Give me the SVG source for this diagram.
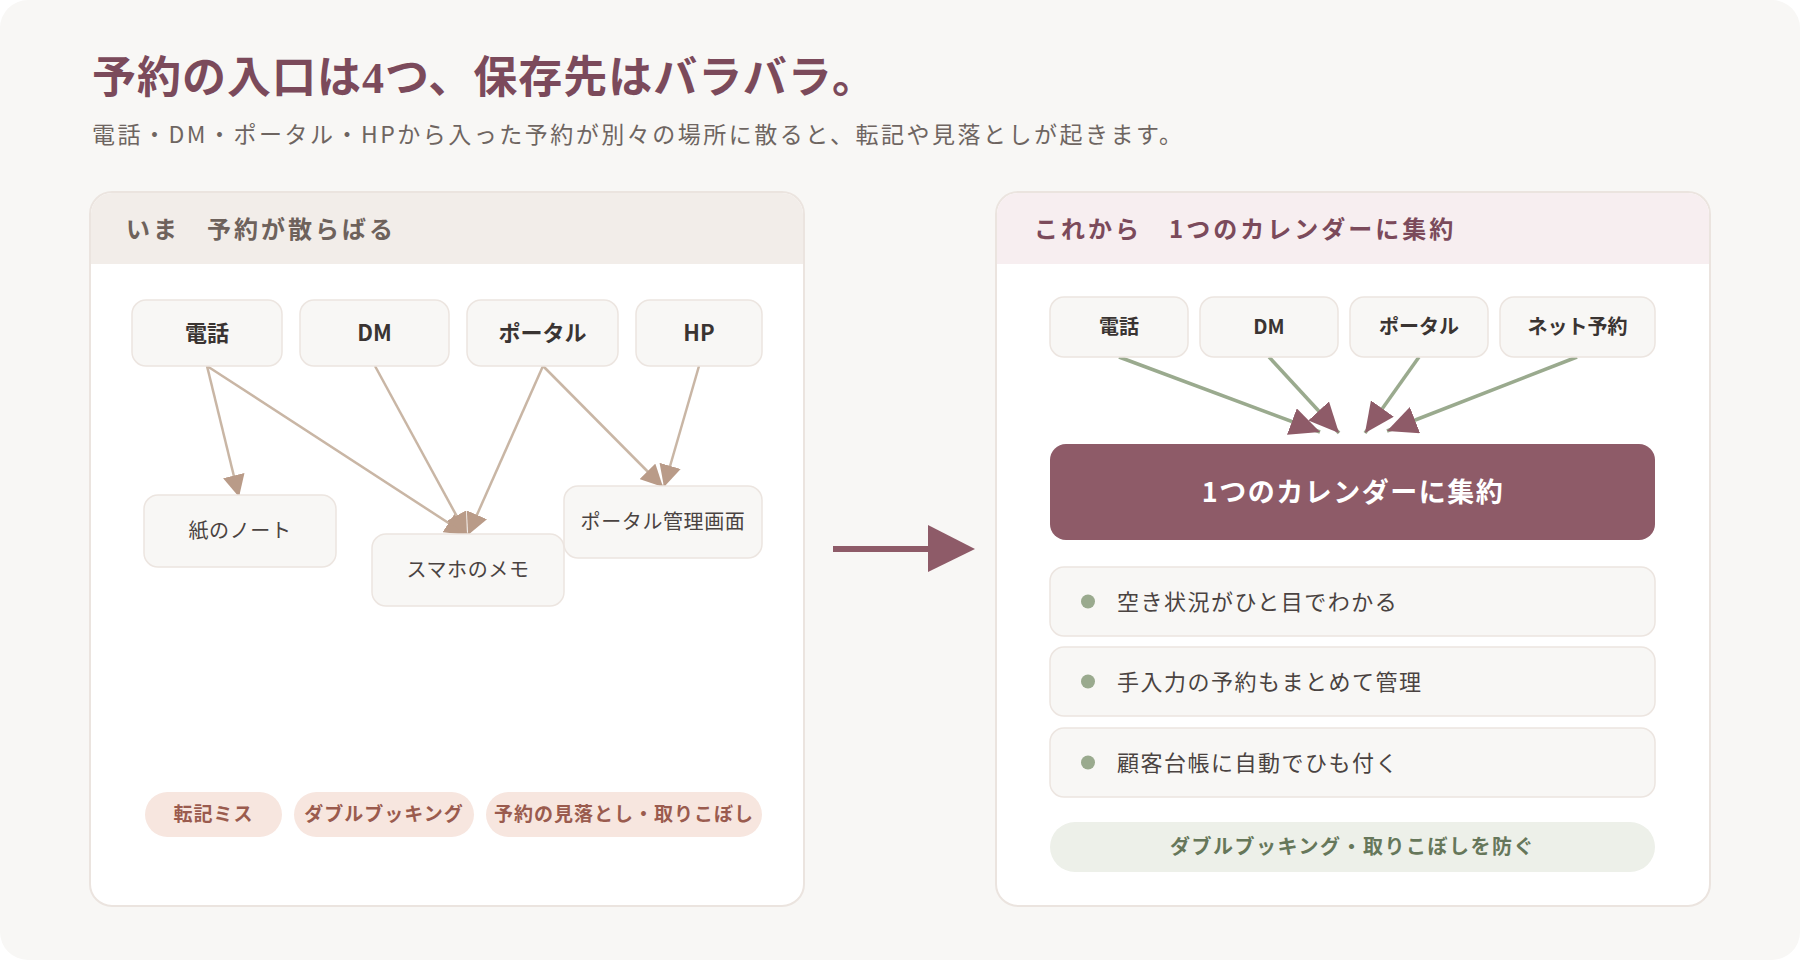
<svg xmlns="http://www.w3.org/2000/svg" width="1800" height="960" viewBox="0 0 1800 960">
<defs>
<style>
.cjk{font-family:"Noto Sans CJK JP","Noto Sans",sans-serif;}
.title{font-family:"Liberation Serif","Noto Sans CJK JP",serif;font-size:44px;font-weight:700;fill:#7b4a5b;letter-spacing:1px;}
.sub{font-size:23px;fill:#6e6561;letter-spacing:2.5px;}
.panel{fill:#ffffff;stroke:#ebe4df;stroke-width:2;}
.hdtxt{font-size:24px;font-weight:700;letter-spacing:3px;}
.node{fill:#f8f7f5;stroke:#ece5e0;stroke-width:1.5;}
.lbl{font-size:22px;font-weight:700;fill:#3a3432;text-anchor:middle;}
.lblr{font-size:20px;font-weight:700;fill:#3a3432;text-anchor:middle;}
.sto{font-size:20px;fill:#4a4341;text-anchor:middle;letter-spacing:0.6px;}
.pillL{fill:#f7e6df;}
.pillLt{font-size:19px;font-weight:700;fill:#9a5b4e;text-anchor:middle;letter-spacing:1px;}
.eL{stroke:#c9b6a5;stroke-width:2.5;fill:none;}
.eR{stroke:#9aaa8e;stroke-width:3.5;fill:none;}
.item{fill:#f8f7f5;stroke:#ece5e0;stroke-width:1.5;}
.itxt{font-size:22px;fill:#4a4341;letter-spacing:1.5px;}
.dot{fill:#9aaa8e;}
</style>
<marker id="aL" markerUnits="userSpaceOnUse" markerWidth="22" markerHeight="22" refX="22" refY="11" orient="auto">
<path d="M0,0 L22,11 L0,22 z" fill="#b99b88"/>
</marker>
<marker id="aR" markerUnits="userSpaceOnUse" markerWidth="30" markerHeight="28" refX="30" refY="14" orient="auto">
<path d="M0,0 L30,14 L0,28 z" fill="#8e5b68"/>
</marker>
</defs>

<rect x="0" y="0" width="1800" height="960" fill="#ffffff"/>
<rect x="0" y="0" width="1800" height="960" rx="28" fill="#f8f7f5"/>

<text class="title" x="92" y="93">予約の入口は4つ、保存先はバラバラ。</text>
<text class="cjk sub" x="92" y="143">電話・DM・ポータル・HPから入った予約が別々の場所に散ると、転記や見落としが起きます。</text>

<g id="panel-now">
<rect class="panel" x="90" y="192" width="714" height="714" rx="22"/>
<path d="M91,264 L91,214 A21,21 0 0 1 112,193 L782,193 A21,21 0 0 1 803,214 L803,264 Z" fill="#f2ede9"/>
<text class="cjk hdtxt" x="126" y="238" fill="#6e625c">いま　予約が散らばる</text>
</g>

<g id="panel-future">
<rect class="panel" x="996" y="192" width="714" height="714" rx="22"/>
<path d="M997,264 L997,214 A21,21 0 0 1 1018,193 L1688,193 A21,21 0 0 1 1709,214 L1709,264 Z" fill="#f7eef0"/>
<text class="cjk hdtxt" x="1034" y="238" fill="#7b4a5b">これから　1つのカレンダーに集約</text>
</g>

<g id="connectors">
<line class="eL" x1="207" y1="366" x2="239" y2="497" marker-end="url(#aL)"/>
<line class="eL" x1="207" y1="366" x2="467" y2="535" marker-end="url(#aL)"/>
<line class="eL" x1="375" y1="366" x2="467" y2="535" marker-end="url(#aL)"/>
<line class="eL" x1="543" y1="366" x2="468" y2="535" marker-end="url(#aL)"/>
<line class="eL" x1="543" y1="366" x2="663" y2="487" marker-end="url(#aL)"/>
<line class="eL" x1="699" y1="366" x2="664" y2="487" marker-end="url(#aL)"/>
<line class="eR" x1="1119" y1="357" x2="1320" y2="432" marker-end="url(#aR)"/>
<line class="eR" x1="1269" y1="357" x2="1339" y2="433" marker-end="url(#aR)"/>
<line class="eR" x1="1419" y1="357" x2="1365" y2="433" marker-end="url(#aR)"/>
<line class="eR" x1="1577" y1="357" x2="1387" y2="431" marker-end="url(#aR)"/>
<g id="big-arrow">
<line x1="833" y1="549" x2="932" y2="549" stroke="#8e5b68" stroke-width="6"/>
<path d="M928,525 L975,549 L928,572 Z" fill="#8e5b68"/>
</g>
</g>

<g id="n-tel"><rect class="node" x="132" y="300" width="150" height="66" rx="14"/><text class="cjk lbl" x="207" y="341">電話</text></g>
<g id="n-dm"><rect class="node" x="300" y="300" width="149" height="66" rx="14"/><text class="cjk lbl" x="374.5" y="341">DM</text></g>
<g id="n-portal"><rect class="node" x="467" y="300" width="151" height="66" rx="14"/><text class="cjk lbl" x="542.5" y="341">ポータル</text></g>
<g id="n-hp"><rect class="node" x="636" y="300" width="126" height="66" rx="14"/><text class="cjk lbl" x="699" y="341">HP</text></g>

<g id="s-note"><rect class="node" x="144" y="495" width="192" height="72" rx="14"/><text class="cjk sto" x="240" y="538">紙のノート</text></g>
<g id="s-memo"><rect class="node" x="372" y="534" width="192" height="72" rx="14"/><text class="cjk sto" x="468" y="577">スマホのメモ</text></g>
<g id="s-admin"><rect class="node" x="564" y="486" width="198" height="72" rx="14"/><text class="cjk sto" x="663" y="529">ポータル管理画面</text></g>

<g id="issues">
<rect class="pillL" x="145" y="792" width="137" height="45" rx="22.5"/><text class="cjk pillLt" x="213.5" y="821">転記ミス</text>
<rect class="pillL" x="294" y="792" width="180" height="45" rx="22.5"/><text class="cjk pillLt" x="384" y="821">ダブルブッキング</text>
<rect class="pillL" x="486" y="792" width="276" height="45" rx="22.5"/><text class="cjk pillLt" x="624" y="821">予約の見落とし・取りこぼし</text>
</g>

<g id="r-tel"><rect class="node" x="1050" y="297" width="138" height="60" rx="14"/><text class="cjk lblr" x="1119" y="334">電話</text></g>
<g id="r-dm"><rect class="node" x="1200" y="297" width="138" height="60" rx="14"/><text class="cjk lblr" x="1269" y="334">DM</text></g>
<g id="r-portal"><rect class="node" x="1350" y="297" width="138" height="60" rx="14"/><text class="cjk lblr" x="1419" y="334">ポータル</text></g>
<g id="r-net"><rect class="node" x="1500" y="297" width="155" height="60" rx="14"/><text class="cjk lblr" x="1577.5" y="334">ネット予約</text></g>

<g id="calendar">
<rect x="1050" y="444" width="605" height="96" rx="16" fill="#8e5b68"/>
<text class="cjk" x="1353" y="502" font-size="27" font-weight="700" fill="#ffffff" text-anchor="middle" letter-spacing="1.5">1つのカレンダーに集約</text>
</g>

<g id="benefit-1"><rect class="item" x="1050" y="567" width="605" height="69" rx="14"/><circle class="dot" cx="1088" cy="601.5" r="7"/><text class="cjk itxt" x="1117" y="609.5">空き状況がひと目でわかる</text></g>
<g id="benefit-2"><rect class="item" x="1050" y="647" width="605" height="69" rx="14"/><circle class="dot" cx="1088" cy="681.5" r="7"/><text class="cjk itxt" x="1117" y="689.5">手入力の予約もまとめて管理</text></g>
<g id="benefit-3"><rect class="item" x="1050" y="728" width="605" height="69" rx="14"/><circle class="dot" cx="1088" cy="762.5" r="7"/><text class="cjk itxt" x="1117" y="770.5">顧客台帳に自動でひも付く</text></g>

<g id="result">
<rect x="1050" y="822" width="605" height="50" rx="25" fill="#edf0e9"/>
<text class="cjk" x="1352.5" y="854" font-size="20" font-weight="700" fill="#66775a" text-anchor="middle" letter-spacing="1.5">ダブルブッキング・取りこぼしを防ぐ</text>
</g>
</svg>
